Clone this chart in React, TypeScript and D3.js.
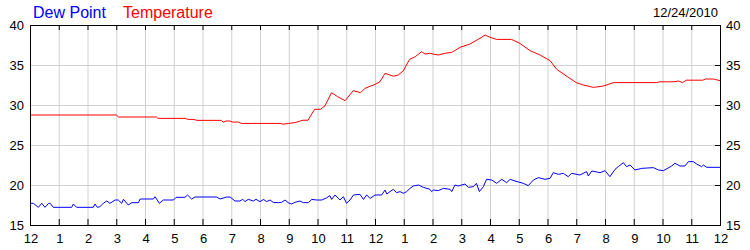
import React from "react";
import * as d3 from "d3";

const hourLabels = ["12","1","2","3","4","5","6","7","8","9","10","11","12","1","2","3","4","5","6","7","8","9","10","11","12"];
const yTicks = [15, 20, 25, 30, 35, 40];
const legendNames = ["Dew Point", "Temperature"];
const dateLabel = "12/24/2010";

const tempHours = [0,3.0,3.08,4.4,4.45,5.4,5.5,5.7,5.8,6.65,6.72,6.82,6.95,7.05,7.25,7.35,8.7,8.8,9.0,9.22,9.4,9.5,9.67,9.9,10.1,10.26,10.49,10.7,10.96,11.24,11.5,11.65,12.0,12.17,12.35,12.64,12.81,12.99,13.2,13.4,13.62,13.74,13.9,14.2,14.43,14.67,14.96,15.3,15.65,15.83,16.0,16.23,16.75,17.04,17.39,17.74,18.09,18.32,18.67,19.0,19.25,19.6,19.94,20.3,21.8,21.9,22.4,22.55,22.7,22.83,23.4,23.5,23.77,24.0];
const tempValues = [28.75,28.75,28.5,28.5,28.33,28.33,28.2,28.2,28.08,28.08,27.85,28.0,28.0,27.87,27.87,27.7,27.7,27.6,27.7,27.8,28.0,28.1,28.1,29.46,29.46,29.9,31.54,31.04,30.54,31.79,31.54,32.08,32.58,32.9,33.96,33.6,33.75,34.3,35.7,36.04,36.67,36.37,36.46,36.25,36.46,36.58,37.21,37.62,38.33,38.75,38.46,38.2,38.2,37.7,36.8,36.25,35.54,34.46,33.6,32.8,32.5,32.2,32.37,32.8,32.8,32.9,32.9,33.0,32.8,33.1,33.1,33.25,33.25,33.04];

const dewHours = [0,0.12,0.29,0.41,0.52,0.65,0.7,0.81,1.45,1.51,1.62,2.2,2.26,2.34,2.43,2.55,2.67,2.78,2.96,3.07,3.19,3.25,3.42,3.54,3.77,3.83,4.29,4.35,4.5,4.64,4.99,5.08,5.39,5.48,5.62,5.74,6.49,6.61,6.84,6.96,7.13,7.3,7.4,7.48,7.59,7.77,7.86,8.0,8.12,8.23,8.35,8.46,8.64,8.75,8.87,8.98,9.1,9.21,9.39,9.51,9.68,9.8,9.97,10.15,10.32,10.43,10.49,10.61,10.78,10.9,11.01,11.13,11.25,11.48,11.6,11.71,11.83,12.0,12.23,12.35,12.41,12.52,12.64,12.75,12.87,12.99,13.1,13.22,13.33,13.51,13.68,13.91,13.97,14.03,14.2,14.38,14.61,14.67,14.78,14.9,15.13,15.25,15.42,15.53,15.63,15.77,15.88,16.06,16.23,16.41,16.58,16.7,16.87,17.16,17.33,17.51,17.68,17.91,18.09,18.2,18.38,18.55,18.72,18.84,19.13,19.36,19.42,19.54,19.83,20.0,20.17,20.35,20.46,20.64,20.75,20.87,21.04,21.28,21.68,21.86,22.03,22.32,22.43,22.61,22.78,22.9,23.07,23.19,23.36,23.42,23.54,24.0];
const dewValues = [17.71,17.71,17.21,17.71,17.21,17.71,17.71,17.21,17.21,17.62,17.21,17.21,17.62,17.21,17.29,17.71,18.0,17.71,18.125,18.125,17.71,18.21,17.5,17.79,17.79,18.25,18.25,18.54,17.71,18.125,18.125,18.46,18.46,18.75,18.25,18.5,18.5,18.25,18.5,18.5,18.0,18.0,18.21,17.92,18.21,18.0,18.21,17.92,18.2,17.92,18.125,17.83,17.79,17.83,18.125,17.79,17.625,17.83,18.0,17.79,17.79,18.2,18.125,18.125,18.4,18.67,18.2,18.75,18.125,18.54,17.71,18.125,18.75,18.83,18.2,18.75,18.33,18.75,18.75,19.375,18.875,19.17,19.46,19.04,19.17,18.96,19.17,19.58,19.875,20.0,19.71,19.46,19.17,19.375,19.3,19.58,19.46,19.17,20.0,19.875,20.125,19.71,19.79,20.21,19.17,19.79,20.71,20.625,20.21,20.71,20.29,20.71,20.5,20.21,19.92,20.625,20.92,20.71,20.83,21.54,21.33,21.46,21.04,21.46,21.25,21.67,21.125,21.75,21.54,21.79,21.04,21.96,22.29,22.79,22.29,22.5,21.875,22.08,22.17,21.875,21.79,22.375,22.71,22.375,22.375,22.92,22.92,22.625,22.29,22.5,22.21,22.21];

const W = 750, H = 250;
const L = 30, R = 720, T = 25, B = 225;
const FONT = "'Liberation Sans', Arial, sans-serif";

export default function App() {
  const x = d3.scaleLinear().domain([0, 24]).range([L, R]);
  const y = d3.scaleLinear().domain([15, 40]).range([B, T]);
  const line = d3.line<[number, number]>().x(d => x(d[0])).y(d => y(d[1]));
  const tempPts = tempHours.map((h, i) => [h, tempValues[i]] as [number, number]);
  const dewPts = dewHours.map((h, i) => [h, dewValues[i]] as [number, number]);
  const hours = d3.range(0, 25);
  const grid = "#d0d0d0";
  return (
    <svg width={W} height={H} style={{ position: "absolute", left: 0, top: 0, background: "#fff" }}>
      <rect x={0} y={0} width={W} height={H} fill="#fff" />
      {hours.slice(1, 24).map(h => (
        <line key={"vg" + h} x1={x(h) + 0.5} x2={x(h) + 0.5} y1={T} y2={B} stroke={grid} strokeWidth={1} />
      ))}
      {yTicks.slice(1, 5).map(v => (
        <line key={"hg" + v} x1={L} x2={R} y1={y(v) + 0.5} y2={y(v) + 0.5} stroke={grid} strokeWidth={1} />
      ))}
      <path d={line(dewPts) || ""} fill="none" stroke="#0000ff" strokeWidth={1} />
      <path d={line(tempPts) || ""} fill="none" stroke="#ff0000" strokeWidth={1} />
      <rect x={L + 0.5} y={T + 0.5} width={R - L} height={B - T} fill="none" stroke="#000" strokeWidth={1} />
      {hours.map(h => (
        <g key={"t" + h}>
          <line x1={x(h) + 0.5} x2={x(h) + 0.5} y1={T} y2={T + 5} stroke="#000" />
          <line x1={x(h) + 0.5} x2={x(h) + 0.5} y1={B - 6} y2={B} stroke="#000" />
          <text x={x(h) + 1} y={243} textAnchor="middle" fontFamily={FONT} fontSize={13} fill="#000">{hourLabels[h]}</text>
        </g>
      ))}
      {yTicks.map(v => (
        <g key={"y" + v}>
          <line x1={R - 5} x2={R} y1={y(v) + 0.5} y2={y(v) + 0.5} stroke="#000" />
          <text x={24} y={y(v) + 5} textAnchor="end" fontFamily={FONT} fontSize={13} fill="#000">{v}</text>
          <text x={726} y={y(v) + 5} textAnchor="start" fontFamily={FONT} fontSize={13} fill="#000">{v}</text>
        </g>
      ))}
      <text x={33} y={18} fontFamily={FONT} fontSize={16} fill="#0000ff">{legendNames[0]}</text>
      <text x={123} y={18} fontFamily={FONT} fontSize={16} fill="#ff0000">{legendNames[1]}</text>
      <text x={718} y={17} textAnchor="end" fontFamily={FONT} fontSize={13} fill="#000">{dateLabel}</text>
    </svg>
  );
}
